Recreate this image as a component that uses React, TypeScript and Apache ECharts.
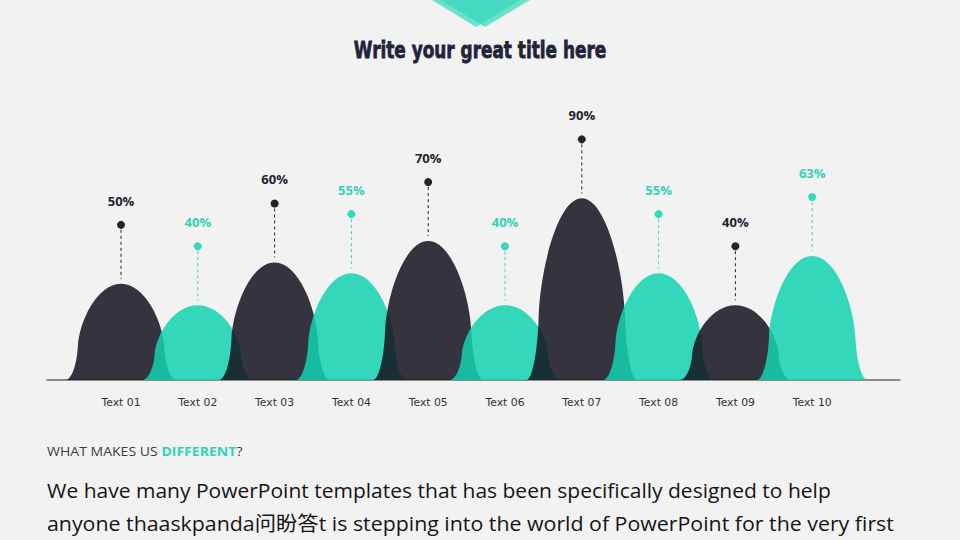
import React, { useEffect, useRef } from "react";
import * as echarts from "echarts";

const categories = ["Text 01", "Text 02", "Text 03", "Text 04", "Text 05", "Text 06", "Text 07", "Text 08", "Text 09", "Text 10"];
const values = [50, 40, 60, 55, 70, 40, 90, 55, 40, 63];
const Y_MIN = 5;
const Y_MAX = 100;

// fills are semi-transparent so that overlaps darken like the reference
const DARK_FILL = "rgba(20,18,31,0.85)";
const TEAL_FILL = "rgba(18,211,178,0.85)";
const DARK_TEXT = "#23232e";
const TEAL_TEXT = "#33d3b7";
const TEAL = "#34d8bc";

const isDark = (i: number) => i % 2 === 0;

export default function App() {
  const ref = useRef<HTMLDivElement>(null);
  useEffect(() => {
    document.body.style.margin = "0";
    const chart = echarts.init(ref.current!, null, { renderer: "svg" });
    const data = values.map((v, i) => [i, v]);

    const option: any = {
      animation: false,
      backgroundColor: "#f2f2f2",
      grid: [
        { left: 47, right: 60, top: 177, bottom: 160 },
        { left: 82.6, right: 109.4, top: 177, bottom: 160 },
      ],
      xAxis: [
        {
          gridIndex: 0,
          type: "value",
          min: 0,
          max: 1,
          axisLine: { show: true, lineStyle: { color: "#6b6b6b", width: 1.5 } },
          axisTick: { show: false },
          axisLabel: { show: false },
          splitLine: { show: false },
        },
        {
          gridIndex: 1,
          type: "category",
          data: categories,
          boundaryGap: true,
          axisLine: { show: false },
          axisTick: { show: false },
          axisLabel: {
            margin: 17,
            color: "#333333",
            fontSize: 10.8,
            fontFamily: "DejaVu Sans",
          },
          z: 5,
        },
      ],
      yAxis: [
        { gridIndex: 0, type: "value", min: 0, max: 1, show: false },
        { gridIndex: 1, type: "value", min: Y_MIN, max: Y_MAX, show: false },
      ],
      series: [
        {
          type: "custom",
          xAxisIndex: 1,
          yAxisIndex: 1,
          data,
          z: 2,
          renderItem: (params: any, api: any) => {
            const i = api.value(0);
            const v = api.value(1);
            const top = api.coord([i, v]);
            const base = api.coord([i, Y_MIN]);
            const band = api.size([1, 0])[0];
            const hw = band * 0.72;
            const h = base[1] - top[1];
            const cx = top[0];
            const by = base[1];
            const P = (nx: number, ny: number) => `${(cx + nx * hw).toFixed(2)} ${(by - ny * h).toFixed(2)}`;
            const d =
              `M ${P(-1, 0)} C ${P(-0.9, 0)} ${P(-0.8, 0.15)} ${P(-0.78, 0.35)} ` +
              `C ${P(-0.755, 0.6)} ${P(-0.44, 1)} ${P(0, 1)} ` +
              `C ${P(0.44, 1)} ${P(0.755, 0.6)} ${P(0.78, 0.35)} ` +
              `C ${P(0.8, 0.15)} ${P(0.9, 0)} ${P(1, 0)} Z`;
            return {
              type: "path",
              shape: { pathData: d },
              style: { fill: isDark(params.dataIndex) ? DARK_FILL : TEAL_FILL },
            };
          },
        },
        {
          type: "custom",
          xAxisIndex: 1,
          yAxisIndex: 1,
          data,
          z: 4,
          renderItem: (params: any, api: any) => {
            const i = api.value(0);
            const v = api.value(1);
            const top = api.coord([i, v]);
            const dark = isDark(params.dataIndex);
            const dotY = top[1] - 59;
            return {
              type: "group",
              children: [
                {
                  type: "line",
                  shape: { x1: top[0], y1: dotY + 5, x2: top[0], y2: top[1] - 5 },
                  style: { stroke: dark ? "#222" : TEAL, lineWidth: 1, lineDash: [3, 3] },
                },
                {
                  type: "circle",
                  shape: { cx: top[0], cy: dotY, r: 4 },
                  style: { fill: dark ? "#23232e" : TEAL },
                },
                {
                  type: "text",
                  x: top[0],
                  y: dotY - 24,
                  style: {
                    text: `${v}%`,
                    fill: dark ? DARK_TEXT : TEAL_TEXT,
                    font: 'bold 13px "Open Sans"',
                    textAlign: "center",
                    textVerticalAlign: "middle",
                  },
                },
              ],
            };
          },
        },
      ],
      graphic: [
        {
          type: "polygon",
          shape: { points: [[432, 0], [520, 0], [476, 27]] },
          style: { fill: TEAL, opacity: 0.7 },
        },
        {
          type: "polygon",
          shape: { points: [[441, 0], [530, 0], [485, 27]] },
          style: { fill: TEAL, opacity: 0.7 },
        },
        {
          type: "text",
          x: 480,
          y: 50,
          scaleX: 0.735,
          style: {
            text: "Write your great title here",
            font: 'bold 23px "DejaVu Sans"',
            fill: "#23233a",
            stroke: "#23233a",
            lineWidth: 0.8,
            textAlign: "center",
            textVerticalAlign: "middle",
          },
        },
        {
          type: "text",
          x: 47,
          y: 451,
          scaleX: 1.08,
          style: {
            text: "{a|WHAT MAKES US }{b|DIFFERENT}{a|?}",
            textVerticalAlign: "middle",
            rich: {
              a: { fontFamily: "Open Sans", fontSize: 13, fill: "#3a3a3a" },
              b: { fontFamily: "Open Sans", fontSize: 13, fontWeight: "bold", fill: TEAL_TEXT },
            },
          },
        },
        {
          type: "text",
          x: 47,
          y: 490,
          scaleX: 1.051,
          style: {
            text: "We have many PowerPoint templates that has been specifically designed to help",
            font: '20px "Open Sans", "Noto Sans CJK SC"',
            fill: "#151515",
            textVerticalAlign: "middle",
          },
        },
        {
          type: "text",
          x: 47,
          y: 523,
          scaleX: 1.067,
          style: {
            text: "anyone thaaskpanda问盼答t is stepping into the world of PowerPoint for the very first",
            font: '20px "Open Sans", "Noto Sans CJK SC"',
            fill: "#151515",
            textVerticalAlign: "middle",
          },
        },
      ],
    };
    chart.setOption(option);
    return () => chart.dispose();
  }, []);
  return (
    <div
      ref={ref}
      style={{ position: "fixed", left: 0, top: 0, width: 960, height: 540, background: "#f2f2f2" }}
    />
  );
}
